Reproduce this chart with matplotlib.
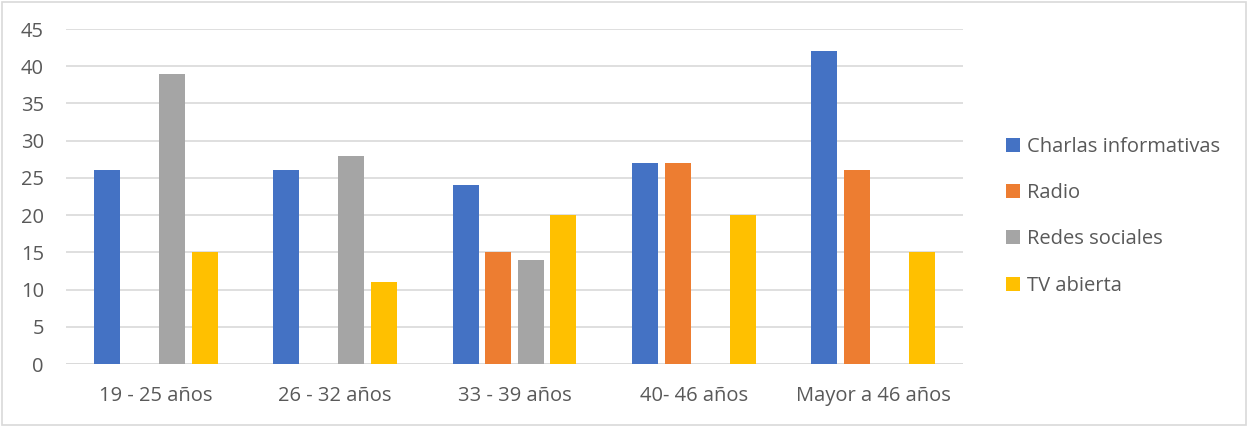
import numpy as np
import matplotlib.pyplot as plt
from matplotlib.patches import Rectangle

categorias = ['19 - 25 años', '26 - 32 años', '33 - 39 años', '40- 46 años', 'Mayor a 46 años']
charlas = [26, 26, 24, 27, 42]
radio = [0, 0, 15, 27, 26]
redes = [39, 28, 14, 0, 0]
tv = [15, 11, 20, 20, 15]

series = [('Charlas informativas', charlas, '#4472C4'),
          ('Radio', radio, '#ED7D31'),
          ('Redes sociales', redes, '#A5A5A5'),
          ('TV abierta', tv, '#FFC000')]

plt.rcParams['font.family'] = ['Open Sans', 'DejaVu Sans']
gris = '#595959'
fs = 14.5

fig = plt.figure(figsize=(12.48, 4.26), dpi=100)
ax = fig.add_axes([0.0529, 0.1455, 0.7187, 0.7864])

x = np.arange(len(categorias))
paso = 0.182
ancho = 0.145
for i, (nombre, vals, color) in enumerate(series):
    ax.bar(x + (i - 1.5) * paso, vals, ancho, color=color, label=nombre, zorder=3)

ax.set_xlim(-0.5, len(categorias) - 0.5)
ax.set_ylim(0, 45)
ax.set_yticks(range(0, 46, 5))
ax.set_xticks(x)
ax.set_xticklabels(categorias)
ax.grid(axis='y', color='#D9D9D9', linewidth=1.2, zorder=0)
for s in ax.spines.values():
    s.set_visible(False)
ax.tick_params(axis='both', length=0, labelsize=fs, colors=gris)
ax.tick_params(axis='x', pad=16)
ax.tick_params(axis='y', pad=16)
ax.axhline(0, color='#D9D9D9', linewidth=1.2, zorder=2)

fig.legend(loc='center left', bbox_to_anchor=(0.7915, 0.492), frameon=False,
           fontsize=fs, labelcolor=gris, handlelength=0.7, handleheight=0.7,
           handletextpad=0.35, labelspacing=1.3)

fig.patches.append(Rectangle((0.0016, 0.0035), 0.9968, 0.991, transform=fig.transFigure,
                             fill=False, edgecolor='#D9D9D9', linewidth=1.2))

fig.savefig('out.png', dpi=100)
